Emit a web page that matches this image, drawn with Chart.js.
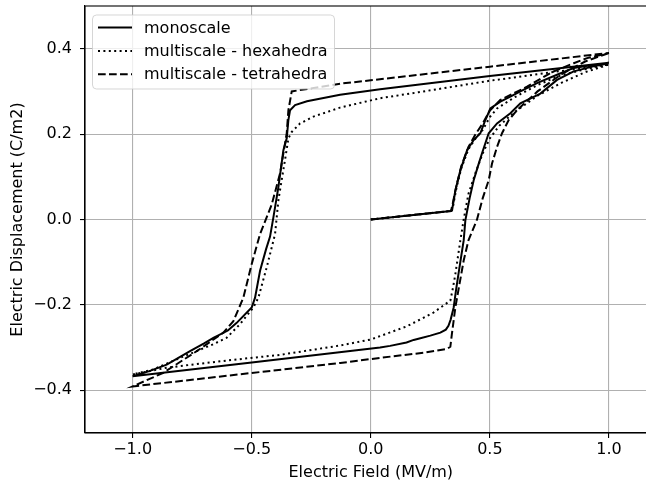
<!DOCTYPE html>
<html lang="en">
<head>
    <meta charset="UTF-8">
    <title>Hysteresis loops</title>
    <script src="https://cdn.jsdelivr.net/npm/chart.js"></script>
    <style>
        html, body { margin: 0; padding: 0; overflow: hidden; background: #fff; }
    </style>
</head>
<body>
    <canvas id="loop" width="660" height="484"></canvas>
<script>
    // series: [E (MV/m), D (C/m2)]
    const monoscale = [
        [0, 0], [0.337, 0.02], [0.341, 0.021], [0.355, 0.068], [0.376, 0.115], [0.404, 0.162],
        [0.432, 0.186], [0.46, 0.202], [0.481, 0.233], [0.502, 0.26], [0.544, 0.276], [0.586, 0.288],
        [0.628, 0.3], [0.7, 0.32], [0.782, 0.339], [0.852, 0.355], [0.93, 0.362], [1.0, 0.367],
        [0.5, 0.336], [0.039, 0.305], [-0.129, 0.292], [-0.268, 0.277], [-0.318, 0.268], [-0.339, 0.256],
        [-0.346, 0.233], [-0.353, 0.19], [-0.367, 0.162], [-0.388, 0.076], [-0.409, 0.005], [-0.423, -0.04],
        [-0.44, -0.07], [-0.465, -0.12], [-0.486, -0.183], [-0.5, -0.206], [-0.563, -0.242], [-0.6, -0.26],
        [-0.661, -0.277], [-0.7, -0.29], [-0.759, -0.308], [-0.857, -0.34], [-0.93, -0.355], [-1.0, -0.367],
        [-0.5, -0.335], [0.039, -0.3], [0.081, -0.296], [0.15, -0.288], [0.18, -0.282], [0.208, -0.278],
        [0.25, -0.272], [0.292, -0.265], [0.315, -0.258], [0.326, -0.249], [0.335, -0.235], [0.348, -0.206],
        [0.358, -0.165], [0.368, -0.128], [0.39, -0.049], [0.397, -0.002], [0.415, 0.05], [0.432, 0.092],
        [0.45, 0.125], [0.467, 0.155], [0.495, 0.202], [0.53, 0.225], [0.586, 0.249], [0.628, 0.272],
        [0.712, 0.295], [0.782, 0.327], [0.852, 0.347], [0.93, 0.358], [1.0, 0.366]
    ];
    const hexahedra = [
        [0, 0], [0.337, 0.02], [0.345, 0.03], [0.36, 0.075], [0.38, 0.12], [0.41, 0.165], [0.44, 0.19],
        [0.47, 0.21], [0.5, 0.24], [0.53, 0.26], [0.6, 0.285], [0.7, 0.315], [0.8, 0.338], [0.9, 0.352],
        [1.0, 0.363],
        [0.5, 0.325], [0.2, 0.298], [0.039, 0.284], [-0.129, 0.262], [-0.241, 0.241], [-0.297, 0.225],
        [-0.332, 0.205], [-0.346, 0.19], [-0.36, 0.14], [-0.375, 0.09], [-0.388, 0.045], [-0.402, -0.034],
        [-0.437, -0.112], [-0.472, -0.183], [-0.493, -0.206], [-0.549, -0.245], [-0.605, -0.277],
        [-0.661, -0.292], [-0.8, -0.324], [-0.913, -0.351], [-1.0, -0.363],
        [-0.857, -0.347], [-0.6, -0.33], [-0.381, -0.317], [-0.128, -0.295], [0.0, -0.281], [0.152, -0.25],
        [0.263, -0.218], [0.334, -0.19], [0.345, -0.16], [0.355, -0.128], [0.376, -0.049], [0.39, 0.0],
        [0.41, 0.06], [0.44, 0.11], [0.47, 0.155], [0.5, 0.19], [0.54, 0.22], [0.6, 0.25], [0.7, 0.29],
        [0.8, 0.32], [0.9, 0.345], [1.0, 0.363]
    ];
    const tetrahedra = [
        [0, 0], [0.337, 0.02], [0.345, 0.04], [0.36, 0.08], [0.38, 0.125], [0.41, 0.17], [0.44, 0.2],
        [0.47, 0.225], [0.5, 0.255], [0.544, 0.28], [0.656, 0.311], [0.76, 0.345], [0.852, 0.366],
        [0.908, 0.378], [1.0, 0.39],
        [0.5, 0.358], [0.0, 0.326], [-0.129, 0.318], [-0.332, 0.3], [-0.346, 0.256], [-0.353, 0.202],
        [-0.381, 0.108], [-0.416, 0.035], [-0.465, -0.034], [-0.5, -0.104], [-0.535, -0.183],
        [-0.577, -0.238], [-0.619, -0.265], [-0.73, -0.308], [-0.871, -0.359], [-1.0, -0.391],
        [-0.128, -0.336], [0.039, -0.324], [0.221, -0.312], [0.32, -0.303], [0.334, -0.298], [0.34, -0.27],
        [0.355, -0.206], [0.39, -0.096], [0.41, -0.049], [0.446, 0.0], [0.47, 0.05], [0.495, 0.092],
        [0.509, 0.131], [0.53, 0.17], [0.551, 0.202], [0.579, 0.233], [0.614, 0.256], [0.7, 0.3],
        [0.8, 0.34], [0.9, 0.37], [1.0, 0.39]
    ];

    const seriesNames = ["monoscale", "multiscale - hexahedra", "multiscale - tetrahedra"];
    const xTicks = [-1.0, -0.5, 0.0, 0.5, 1.0];
    const yTicks = [-0.4, -0.2, 0.0, 0.2, 0.4];
    const dashes = [[], [2, 3.4], [7.7, 3.3]];

    const font = { family: "DejaVu Sans", size: 16 };
    Chart.defaults.font.family = font.family;
    Chart.defaults.font.size = font.size;
    Chart.defaults.color = "#000";

    function fmt(v) {
        return v.toFixed(1).replace("-", "\u2212");
    }

    // matplotlib-like frame around the plot area
    const framePlugin = {
        id: "frame",
        afterDraw(chart) {
            const { ctx, chartArea: a } = chart;
            ctx.save();
            ctx.strokeStyle = "#000";
            ctx.lineWidth = 1.1;
            ctx.strokeRect(a.left, a.top, a.right - a.left, a.bottom - a.top);
            ctx.restore();
        }
    };

    // legend box in the top left corner, drawn over the lines
    const legendPlugin = {
        id: "innerLegend",
        afterDatasetsDraw(chart) {
            const ctx = chart.ctx;
            const x0 = 92.5, y0 = 15, w = 242, h = 74, r = 4;
            ctx.save();
            ctx.beginPath();
            ctx.roundRect(x0, y0, w, h, r);
            ctx.fillStyle = "rgba(255,255,255,0.8)";
            ctx.fill();
            ctx.strokeStyle = "rgba(204,204,204,0.8)";
            ctx.lineWidth = 1;
            ctx.stroke();
            ctx.font = font.size + "px '" + font.family + "'";
            ctx.textBaseline = "middle";
            ctx.fillStyle = "#000";
            seriesNames.forEach((name, i) => {
                const y = 27.5 + i * 23.4;
                ctx.beginPath();
                ctx.setLineDash(dashes[i]);
                ctx.lineWidth = 2;
                ctx.strokeStyle = "#000";
                ctx.moveTo(98, y);
                ctx.lineTo(132, y);
                ctx.stroke();
                ctx.setLineDash([]);
                ctx.fillText(name, 144, y + 1);
            });
            ctx.restore();
        }
    };

    function noEdgePadding(s) {
        s.paddingTop = 0;
        s.paddingBottom = 0;
        s.paddingLeft = 0;
        s.paddingRight = 0;
    }

    const ctx = document.getElementById("loop").getContext("2d");
    new Chart(ctx, {
        type: "scatter",
        data: {
            datasets: [monoscale, hexahedra, tetrahedra].map((pts, i) => ({
                label: seriesNames[i],
                data: pts.map(p => ({ x: p[0], y: p[1] })),
                showLine: true,
                borderColor: "#000",
                borderWidth: 2,
                borderDash: dashes[i],
                borderCapStyle: "butt",
                pointRadius: 0,
                tension: 0,
                fill: false
            }))
        },
        options: {
            responsive: false,
            animation: false,
            events: [],
            layout: { padding: { left: 0, right: 3.4, top: 6, bottom: 0 } },
            plugins: { legend: { display: false }, tooltip: { enabled: false } },
            scales: {
                x: {
                    type: "linear",
                    min: -1.2,
                    max: 1.2,
                    afterBuildTicks: s => { s.ticks = xTicks.map(v => ({ value: v })); },
                    afterFit: s => { s.height = 51; noEdgePadding(s); },
                    ticks: { callback: v => fmt(v), padding: 2.5, maxRotation: 0 },
                    grid: { color: "#b0b0b0", lineWidth: 1.1, tickLength: 5, tickColor: "#000" },
                    border: { color: "#000", width: 1.1 },
                    title: { display: true, text: "Electric Field (MV/m)", padding: { top: 0, bottom: 2 } }
                },
                y: {
                    type: "linear",
                    min: -0.5,
                    max: 0.5,
                    afterBuildTicks: s => { s.ticks = yTicks.map(v => ({ value: v })); },
                    afterFit: s => { s.width = 85; noEdgePadding(s); },
                    ticks: { callback: v => fmt(v), padding: 8 },
                    grid: { color: "#b0b0b0", lineWidth: 1.1, tickLength: 5, tickColor: "#000" },
                    border: { color: "#000", width: 1.1 },
                    title: { display: true, text: "Electric Displacement (C/m2)", padding: { top: 8.5, bottom: 0 } }
                }
            }
        },
        plugins: [legendPlugin, framePlugin]
    });
</script>
</body>
</html>
